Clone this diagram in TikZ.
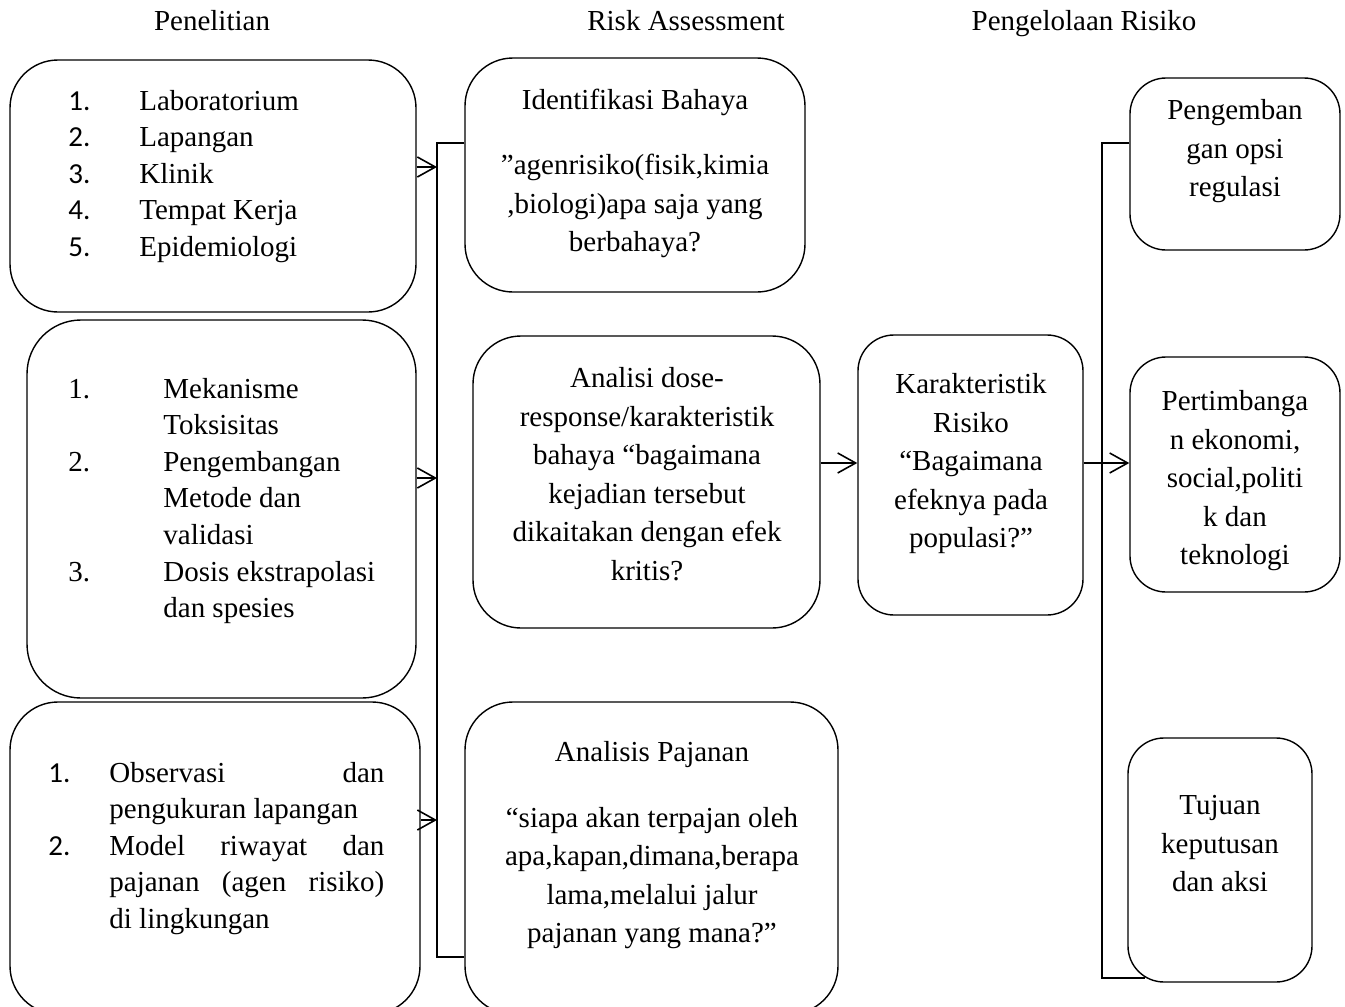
\documentclass[tikz,border=0pt]{standalone}
\usepackage{fontspec}
\setmainfont{Liberation Serif}
\newfontfamily\numfont{Carlito}
\usetikzlibrary{fit,arrows.meta}
\newcommand\nr[1]{{\numfont #1}}

\begin{document}
\begin{tikzpicture}[x=0.5pt,y=-0.5pt,
  box/.style={draw,line width=0.7pt,rounded corners=24pt,inner sep=0pt},
  sbox/.style={box,rounded corners=18pt},
  ttl/.style={font=\fontsize{14.5}{19.3}\selectfont,anchor=base,inner sep=0pt},
  txt/.style={font=\fontsize{14.5}{19.3}\selectfont,align=center,anchor=north,inner sep=0pt},
  lst/.style={font=\fontsize{14.5}{18.3}\selectfont,anchor=base west,inner sep=0pt},
  arr/.style={line width=0.7pt,-{Straight Barb[length=9pt,width=10pt,line width=0.8pt]}}]
 \useasboundingbox (0,0) rectangle (1345,1007);
 % column titles
 \node[ttl] (tPen) at (212,30) {Penelitian};
 \node[ttl] (tRisk) at (686,30) {Risk Assessment};
 \node[ttl] (tKel) at (1084,30) {Pengelolaan Risiko};
 % boxes
 \node[box,fit={(10,60) (416,312)}] (lab) {};
 \node[box,rounded corners=27pt,fit={(27,320) (416,698)}] (mek) {};
 \node[box,fit={(10,702) (420,1014)}] (obs) {};
 \node[box,fit={(465,58) (805,292)}] (idf) {};
 \node[box,fit={(473,336) (820,628)}] (ana) {};
 \node[box,fit={(465,702) (838,1014)}] (paj) {};
 \node[sbox,fit={(858,335) (1083,615)}] (kar) {};
 \node[sbox,fit={(1130,78) (1340,250)}] (peng) {};
 \node[sbox,fit={(1130,357) (1340,592)}] (pert) {};
 \node[sbox,fit={(1128,738) (1312,982)}] (tuj) {};
 % texts
 \node[lst] (labT) at (68,110) {\begin{tabular}[t]{@{}p{35.5pt}@{}l@{}}
   \nr{1.} & Laboratorium\\ \nr{2.} & Lapangan\\ \nr{3.} & Klinik\\
   \nr{4.} & Tempat Kerja\\ \nr{5.} & Epidemiologi\end{tabular}};
 \node[lst] (mekT) at (68,398) {\begin{tabular}[t]{@{}p{47.5pt}@{}l@{}}
   1. & Mekanisme\\ & Toksisitas\\ 2. & Pengembangan\\ & Metode dan\\
   & validasi\\ 3. & Dosis ekstrapolasi\\ & dan spesies\end{tabular}};
 \node[lst] (obsT) at (48,782) {\begin{tabular}[t]{@{}p{30.5pt}@{}p{137.5pt}@{}}
   \nr{1.} & Observasi\hfill dan\newline pengukuran lapangan\\
   \nr{2.} & Model\hfill riwayat\hfill dan\newline
     pajanan\hfill (agen\hfill risiko)\newline di lingkungan\end{tabular}};
 \node[txt] (idfT) at (635,89) {Identifikasi Bahaya\\[13pt]
   ”agenrisiko(fisik,kimia\\{},biologi)apa saja yang\\berbahaya?};
 \node[txt] (anaT) at (647,367) {Analisi dose-\\response/karakteristik\\
   bahaya “bagaimana\\kejadian tersebut\\dikaitakan dengan efek\\kritis?};
 \node[txt] (pajT) at (652,741) {Analisis Pajanan\\[13.5pt]
   “siapa akan terpajan oleh\\apa,kapan,dimana,berapa\\lama,melalui jalur\\pajanan yang mana?”};
 \node[txt] (karT) at (971,373) {Karakteristik\\Risiko\\“Bagaimana\\efeknya pada\\populasi?”};
 \node[txt] (pengT) at (1235,99) {Pengemban\\gan opsi\\regulasi};
 \node[txt] (pertT) at (1235,390) {Pertimbanga\\n ekonomi,\\social,politi\\k dan\\teknologi};
 \node[txt] (tujT) at (1220,795) {Tujuan\\keputusan\\dan aksi};
 % brackets and arrows
 \coordinate (bLt) at (437,143);
 \coordinate (bLb) at (437,957);
 \coordinate (jA) at (437,167);
 \coordinate (jB) at (437,478);
 \coordinate (jC) at (437,820);
 \coordinate (bRt) at (1102,143);
 \coordinate (bRb) at (1102,978);
 \coordinate (bRe) at (1145,978);
 \coordinate (jD) at (840,463);
 \draw[line width=0.7pt] (idf.west |- bLt) -- (bLt) -- (bLb) -- (paj.west |- bLb);
 \draw[line width=0.7pt] (peng.west |- bRt) -- (bRt) -- (bRb) -- (bRe);
 \foreach \s/\j in {lab/jA,mek/jB,obs/jC}
   \draw[arr] (\s.east |- \j) -- (\j);
 \draw[arr] (ana.east |- jD) -- (kar.west |- jD);
 \draw[arr] (kar.east |- jD) -- (pert.west |- jD);
\end{tikzpicture}
\end{document}
